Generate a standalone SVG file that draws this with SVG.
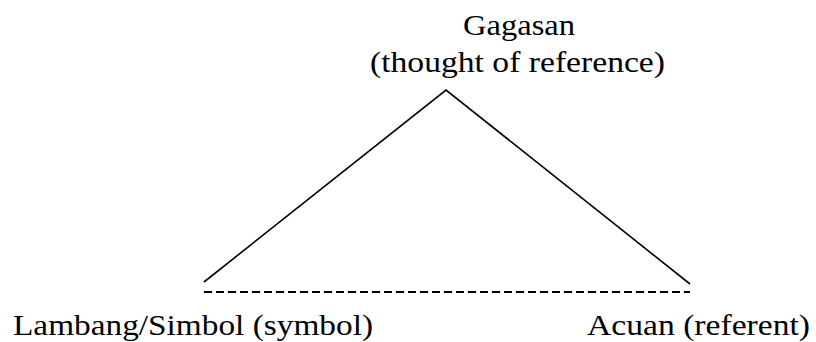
<svg xmlns="http://www.w3.org/2000/svg" width="816" height="342" viewBox="0 0 816 342">
<style>
text{font-family:"Liberation Serif","DejaVu Serif",serif;font-size:30px;fill:#000}
.ln{stroke:#000;stroke-width:1.6;fill:none}
.dash{stroke:#000;stroke-width:2;stroke-dasharray:8 4;fill:none}
</style>
<rect width="816" height="342" fill="#fff"/>
<g id="connectors">
<polyline class="ln" points="204,282 446,90 690,284"/>
<line class="dash" x1="204" y1="292" x2="690" y2="292"/>
</g>
<g id="gagasan">
<text x="463" y="35" textLength="112" lengthAdjust="spacingAndGlyphs">Gagasan</text>
<text x="370" y="72" textLength="295" lengthAdjust="spacingAndGlyphs">(thought of reference)</text>
</g>
<g id="lambang">
<text x="13" y="335" textLength="360" lengthAdjust="spacingAndGlyphs">Lambang/Simbol (symbol)</text>
</g>
<g id="acuan">
<text x="587" y="335" textLength="223" lengthAdjust="spacingAndGlyphs">Acuan (referent)</text>
</g>
</svg>
